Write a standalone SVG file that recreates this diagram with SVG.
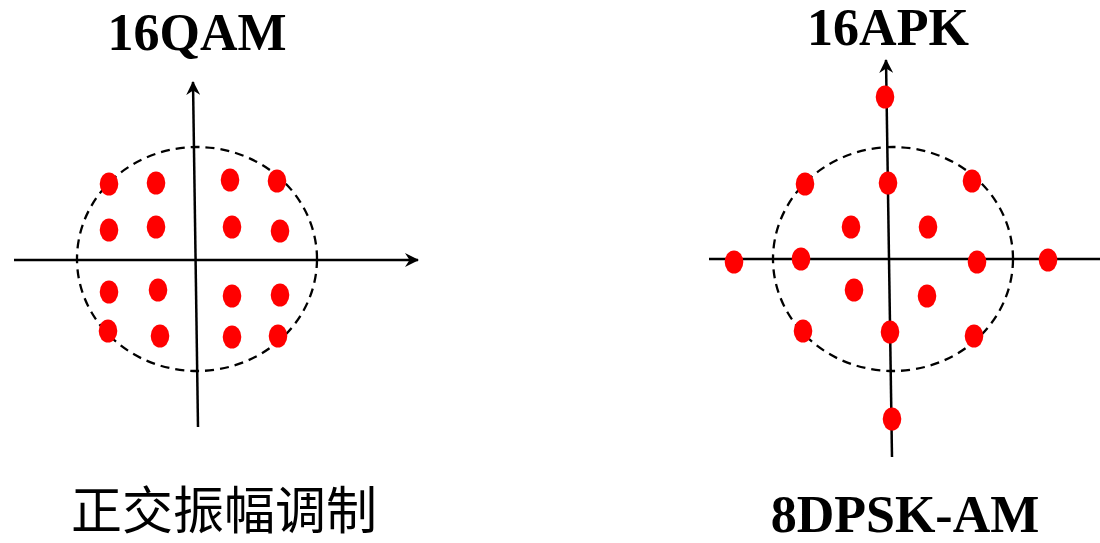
<svg xmlns="http://www.w3.org/2000/svg" width="1100" height="543" viewBox="0 0 1100 543">
<style>
.title{font-family:"Liberation Serif","Times New Roman",serif;font-weight:bold;font-size:52px;fill:#000;text-anchor:middle}
.cjk{font-family:"Noto Sans CJK SC",sans-serif;font-size:51px;fill:#000;text-anchor:middle}
.axis{stroke:#000;stroke-width:2.5;fill:none}
.ring{stroke:#000;stroke-width:2.3;fill:none;stroke-dasharray:9 6}
.pt{fill:#ff0000}
</style>
<defs>
<marker id="arr" viewBox="0 0 14 14" refX="13" refY="7" markerWidth="14" markerHeight="14" markerUnits="userSpaceOnUse" orient="auto">
<path d="M0,0 L14,7 L0,14 L4.5,7 Z" fill="#000"/>
</marker>
</defs>
<rect width="1100" height="543" fill="#fff"/>
<g id="qam16">
<text class="title" x="197" y="50">16QAM</text>
<ellipse class="ring" cx="197" cy="259" rx="120" ry="112"/>
<g id="qam-axes">
<line class="axis" x1="14" y1="260" x2="418" y2="260" marker-end="url(#arr)"/>
<line class="axis" x1="198" y1="427" x2="193" y2="82" marker-end="url(#arr)"/>
</g>
<g id="qam-points">
<ellipse class="pt" cx="109" cy="184" rx="9.3" ry="11.5"/>
<ellipse class="pt" cx="156" cy="183" rx="9.3" ry="11.5"/>
<ellipse class="pt" cx="230" cy="180" rx="9.3" ry="11.5"/>
<ellipse class="pt" cx="277" cy="181" rx="9.3" ry="11.5"/>
<ellipse class="pt" cx="109" cy="230" rx="9.3" ry="11.5"/>
<ellipse class="pt" cx="156" cy="227" rx="9.3" ry="11.5"/>
<ellipse class="pt" cx="232" cy="227" rx="9.3" ry="11.5"/>
<ellipse class="pt" cx="280" cy="231" rx="9.3" ry="11.5"/>
<ellipse class="pt" cx="109" cy="292" rx="9.3" ry="11.5"/>
<ellipse class="pt" cx="158" cy="290" rx="9.3" ry="11.5"/>
<ellipse class="pt" cx="232" cy="296" rx="9.3" ry="11.5"/>
<ellipse class="pt" cx="280" cy="295" rx="9.3" ry="11.5"/>
<ellipse class="pt" cx="108" cy="331" rx="9.3" ry="11.5"/>
<ellipse class="pt" cx="160" cy="336" rx="9.3" ry="11.5"/>
<ellipse class="pt" cx="232" cy="337" rx="9.3" ry="11.5"/>
<ellipse class="pt" cx="278" cy="336" rx="9.3" ry="11.5"/>
</g>
<text class="cjk" x="224" y="529">正交振幅调制</text>
</g>
<g id="apk16">
<text class="title" x="888" y="45">16APK</text>
<ellipse class="ring" cx="893" cy="259" rx="120" ry="112"/>
<g id="apk-axes">
<line class="axis" x1="709" y1="259" x2="1102" y2="259"/>
<line class="axis" x1="892" y1="457" x2="886" y2="60" marker-end="url(#arr)"/>
</g>
<g id="apk-points">
<ellipse class="pt" cx="885" cy="97" rx="9.3" ry="11.5"/>
<ellipse class="pt" cx="805" cy="184" rx="9.3" ry="11.5"/>
<ellipse class="pt" cx="888" cy="183" rx="9.3" ry="11.5"/>
<ellipse class="pt" cx="972" cy="181" rx="9.3" ry="11.5"/>
<ellipse class="pt" cx="851" cy="227" rx="9.3" ry="11.5"/>
<ellipse class="pt" cx="928" cy="227" rx="9.3" ry="11.5"/>
<ellipse class="pt" cx="734" cy="262" rx="9.3" ry="11.5"/>
<ellipse class="pt" cx="801" cy="259" rx="9.3" ry="11.5"/>
<ellipse class="pt" cx="977" cy="262" rx="9.3" ry="11.5"/>
<ellipse class="pt" cx="1048" cy="260" rx="9.3" ry="11.5"/>
<ellipse class="pt" cx="854" cy="290" rx="9.3" ry="11.5"/>
<ellipse class="pt" cx="927" cy="296" rx="9.3" ry="11.5"/>
<ellipse class="pt" cx="803" cy="331" rx="9.3" ry="11.5"/>
<ellipse class="pt" cx="890" cy="332" rx="9.3" ry="11.5"/>
<ellipse class="pt" cx="974" cy="336" rx="9.3" ry="11.5"/>
<ellipse class="pt" cx="892" cy="419" rx="9.3" ry="11.5"/>
</g>
<text class="title" x="905" y="532">8DPSK-AM</text>
</g>
</svg>
